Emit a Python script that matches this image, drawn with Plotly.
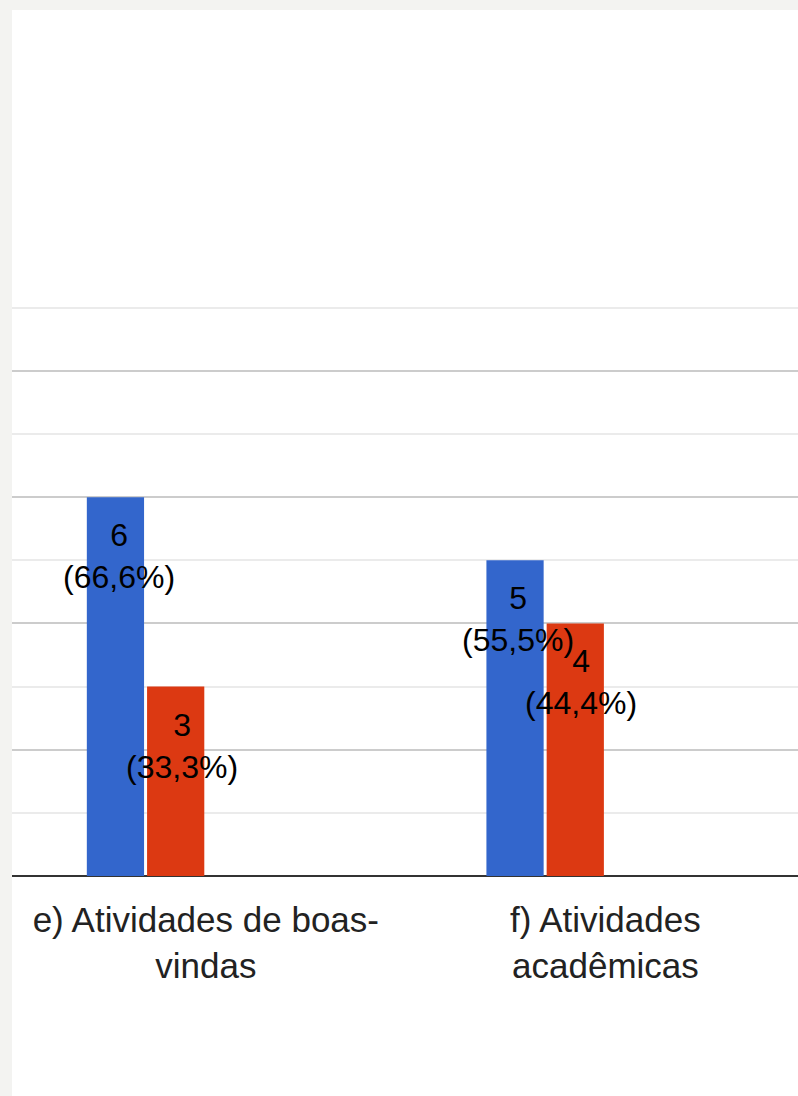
import plotly.graph_objects as go

categories = ["e) Atividades de boas-<br>vindas", "f) Atividades<br>acadêmicas"]
series_names = ["Sim", "Não", "Talvez", "Não sei"]
series_a = [6, 5]
series_b = [3, 4]
series_c = [0, 0]
series_d = [0, 0]
labels_a = ["6<br>(66,6%)", "5<br>(55,5%)"]
labels_b = ["3<br>(33,3%)", "4<br>(44,4%)"]
colors = ["#3366cc", "#dc3912", "#ff9900", "#109618"]

FONT = "Liberation Sans, Arial, sans-serif"

fig = go.Figure()
for name, vals, col in zip(series_names, [series_a, series_b, series_c, series_d], colors):
    fig.add_trace(go.Bar(x=categories, y=vals, name=name,
                         marker=dict(color=col, line=dict(width=0))))

annotations = []
for cat, v, t in zip(categories, series_a, labels_a):
    annotations.append(dict(x=cat, y=v, xref="x", yref="y", text=t, showarrow=False,
                            xanchor="center", yanchor="top", xshift=-87, yshift=-18,
                            font=dict(family=FONT, size=32, color="#000000")))
for cat, v, t in zip(categories, series_b, labels_b):
    annotations.append(dict(x=cat, y=v, xref="x", yref="y", text=t, showarrow=False,
                            xanchor="center", yanchor="top", xshift=-24, yshift=-18,
                            font=dict(family=FONT, size=32, color="#000000")))

W, H = 798, 1096
ml, mr, mt, mb = 12, 0, 304, 220
pw, ph = W - ml - mr, H - mt - mb

def px_to_paper_x(px):
    return (px - ml) / pw

def px_to_paper_y(py):
    return (H - mb - py) / ph

shapes = [
    dict(type="rect", xref="paper", yref="paper", layer="below",
         x0=px_to_paper_x(-5), x1=px_to_paper_x(12), y0=px_to_paper_y(H + 5), y1=px_to_paper_y(-5),
         fillcolor="#f3f3f1", line=dict(width=0)),
    dict(type="rect", xref="paper", yref="paper", layer="below",
         x0=px_to_paper_x(-5), x1=px_to_paper_x(W + 5), y0=px_to_paper_y(10), y1=px_to_paper_y(-5),
         fillcolor="#f3f3f1", line=dict(width=0)),
]

fig.update_layout(
    width=W, height=H,
    margin=dict(l=ml, r=mr, t=mt, b=mb, pad=0, autoexpand=False),
    paper_bgcolor="#ffffff", plot_bgcolor="#ffffff",
    barmode="group", bargap=0.397, bargroupgap=0.05,
    showlegend=False,
    annotations=annotations,
    shapes=shapes,
    font=dict(family=FONT, color="#222222"),
    xaxis=dict(range=[-0.485, 1.482], showgrid=False, zeroline=False, automargin=False,
               showline=False, ticks="", tickfont=dict(family=FONT, size=35, color="#222222"),
               ticklabelstandoff=20),
    yaxis=dict(range=[0, 9.06], dtick=2, showticklabels=False, ticks="", automargin=False,
               showgrid=True, gridcolor="#cccccc", gridwidth=2,
               zeroline=True, zerolinecolor="#333333", zerolinewidth=2,
               minor=dict(dtick=1, showgrid=True, gridcolor="#ebebeb", gridwidth=2),
               showline=False, fixedrange=True),
)

fig.write_html("out.html", config={"displayModeBar": False},
               post_script="document.body.style.margin='0';document.body.style.overflow='hidden';")
